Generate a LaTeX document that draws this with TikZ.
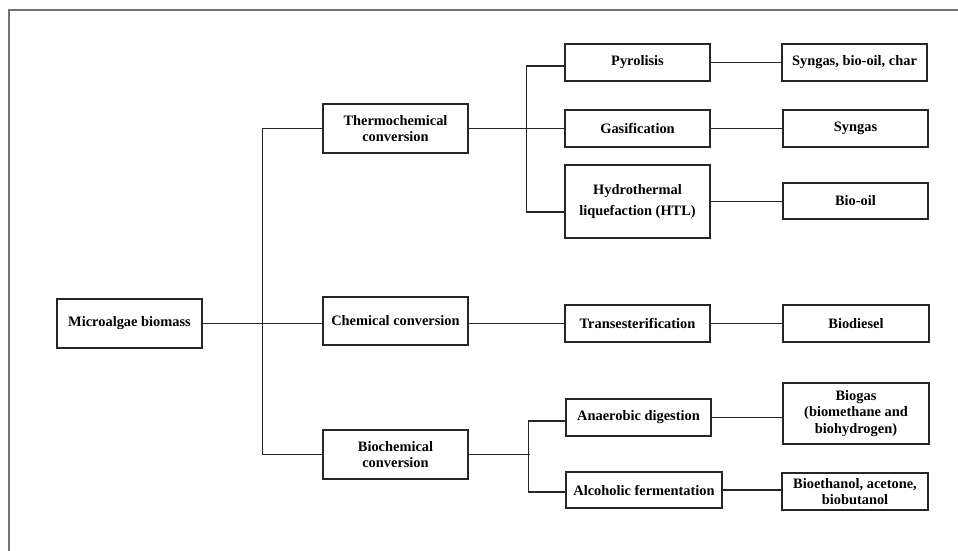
\documentclass[tikz,border=0pt]{standalone}
\usepackage{fontspec}
\setmainfont{Liberation Serif}
\begin{document}
\begin{tikzpicture}[x=1pt,y=-1pt,
  box/.style={draw=black!85,line width=1.3pt,inner sep=0pt,align=center,
    font=\bfseries\fontsize{14.4}{16.8}\selectfont,minimum width=145pt,minimum height=37pt},
  conn/.style={draw=black!85,line width=1.1pt},
  frame/.style={draw=black!55,line width=1.8pt}]
\useasboundingbox (0,0) rectangle (958,551);
\draw[frame] (8.7,551) -- (8.7,10) -- (958,10);
% level 0/1
\node[box,minimum height=49pt] (mb) at (129.5,323.5) {Microalgae biomass};
\node[box,minimum height=49pt] (th) at (395.5,128.5) {Thermochemical\\conversion};
\node[box,minimum height=48pt] (ch) at (395.5,321) {Chemical conversion};
\node[box,minimum height=49pt] (bc) at (395.5,454.5) {Biochemical\\conversion};
% level 2
\node[box] (py) at (637.5,62.5) {Pyrolisis};
\node[box] (ga) at (637.5,128.5) {Gasification};
\node[box,minimum height=73pt,font=\bfseries\fontsize{14.4}{21}\selectfont] (htl) at (637.5,201.5) {Hydrothermal\\liquefaction (HTL)};
\node[box] (tr) at (637.5,323.5) {Transesterification};
\node[box] (ad) at (638.5,417.5) {Anaerobic digestion};
\node[box,minimum width=156pt,minimum height=36pt] (af) at (644,490) {Alcoholic fermentation};
% level 3
\node[box] (sbc) at (854.5,62.5) {Syngas, bio-oil, char};
\node[box] (sg) at (855.5,128.5) {Syngas};
\node[box,minimum height=36pt] (bo) at (855.5,201) {Bio-oil};
\node[box,minimum width=146pt] (bd) at (856,323.5) {Biodiesel};
\node[box,minimum width=146pt,minimum height=61pt] (bg) at (856,413.5) {Biogas\\(biomethane and\\biohydrogen)};
\node[box,minimum width=146pt] (be) at (855,491.5) {Bioethanol, acetone,\\biobutanol};
% connectors
\draw[conn] (mb.east) -- (mb.east -| ch.west);
\draw[conn] (th.west) -- ++(-60,0) |- (bc.west);
\draw[conn] (th.east) -- (ga.west);
\draw[conn] ([yshift=-3.5pt]py.west) -- ++(-38,0) |- ([yshift=-10.5pt]htl.west);
\draw[conn] (py.east) -- (sbc.west);
\draw[conn] (ga.east) -- (sg.west);
\draw[conn] (htl.east) -- (htl.east -| bo.west);
\draw[conn] (tr.west -| ch.east) -- (tr.west);
\draw[conn] (tr.east) -- (bd.west);
\draw[conn] (bc.east) -- ++(61,0);
\draw[conn] ([yshift=-3.5pt]ad.west) -- ++(-37,0) |- ([yshift=-2pt]af.west);
\draw[conn] (ad.east) -- (ad.east -| bg.west);
\draw[conn] (af.east) -- (af.east -| be.west);
\end{tikzpicture}
\end{document}
